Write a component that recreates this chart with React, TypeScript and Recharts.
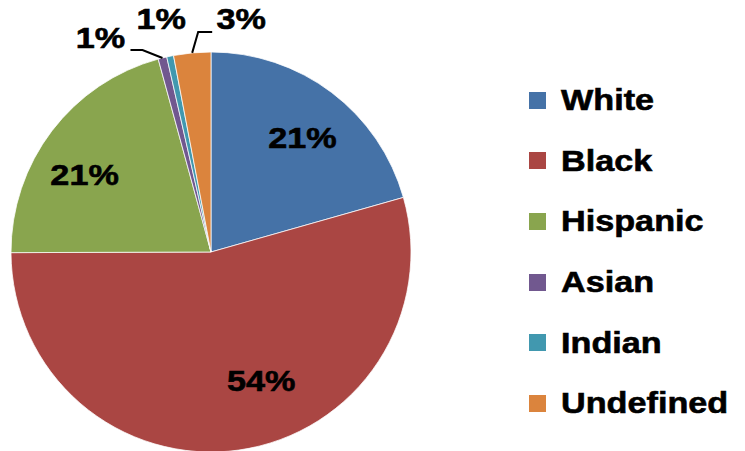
import React from 'react';
import { PieChart, Pie, Cell, Legend } from 'recharts';

const groups = ['White', 'Black', 'Hispanic', 'Asian', 'Indian', 'Undefined'];
const shares = [20.6, 54.35, 20.8, 0.7, 0.55, 3.0];
const colors = ['#4572A7', '#AA4643', '#89A54E', '#71588F', '#4198AF', '#DB843D'];

const data = groups.map((name, i) => ({ name, value: shares[i] }));

// label placement: inside labels get a nudge, outside labels are offset from the arc
const labelNudge = [
  { dx: 4, dy: 1 },
  { dx: 30, dy: -15 },
  { dx: -11, dy: 11 },
  { dx: -62, dy: -20 },
  { dx: -9, dy: -37 },
  { dx: 49, dy: -34 },
];
const insideCount = 3;

const RADIAN = Math.PI / 180;
const FONT = '"Liberation Sans", Arial, sans-serif';
const STRETCH = 1.14;

const renderLabel = (props: any) => {
  const { cx, cy, midAngle, outerRadius, percent, index } = props;
  const cos = Math.cos(-midAngle * RADIAN);
  const sin = Math.sin(-midAngle * RADIAN);
  const text = `${Math.round(percent * 100)}%`;
  const nudge = labelNudge[index];
  const textProps = {
    x: 0,
    y: 0,
    textAnchor: 'middle' as const,
    dominantBaseline: 'central' as const,
    fontFamily: FONT,
    fontWeight: 700,
    fontSize: 30,
    fill: '#000',
    stroke: '#000',
    strokeWidth: 0.6,
  };

  let lx: number;
  let ly: number;
  let path: string | null = null;
  if (index < insideCount) {
    const r = outerRadius * 0.725;
    lx = cx + r * cos + nudge.dx;
    ly = cy + r * sin + nudge.dy;
  } else {
    const ex = cx + outerRadius * cos;
    const ey = cy + outerRadius * sin;
    lx = ex + nudge.dx;
    ly = ey + nudge.dy;
    if (index === 3) {
      path = `M${ex},${ey} L${ex - 20},${ey - 8} L${ex - 32},${ey - 8}`;
    } else if (index === 5) {
      path = `M${ex},${ey} L${ex + 6},${ey - 21} L${ex + 20},${ey - 21}`;
    }
  }
  return (
    <g>
      {path && <path d={path} stroke="#000" strokeWidth={2} fill="none" />}
      <g transform={`translate(${lx},${ly}) scale(${STRETCH},1)`}>
        <text {...textProps}>{text}</text>
      </g>
    </g>
  );
};

const renderLegend = () => (
  <div style={{ fontFamily: FONT }}>
    {groups.map((g, i) => (
      <div key={g} style={{ display: 'flex', alignItems: 'center', height: 60.6 }}>
        <span
          style={{ width: 17, height: 17, background: colors[i], marginRight: 15, flexShrink: 0 }}
        />
        <span
          style={{
            fontSize: 30,
            fontWeight: 700,
            lineHeight: 1,
            color: '#000',
            WebkitTextStroke: '0.6px #000',
            display: 'inline-block',
            transform: `scaleX(${STRETCH})`,
            transformOrigin: 'left center',
            whiteSpace: 'nowrap',
          }}
        >
          {g}
        </span>
      </div>
    ))}
  </div>
);

export default function App() {
  return (
    <div style={{ position: 'absolute', left: 0, top: 0, width: 745, height: 451, background: '#fff' }}>
      <PieChart width={745} height={451} margin={{ top: 0, right: 0, bottom: 0, left: 0 }}>
        <Pie
          data={data}
          dataKey="value"
          nameKey="name"
          cx={211}
          cy={252}
          outerRadius={200}
          startAngle={90}
          endAngle={-270}
          label={renderLabel}
          labelLine={false}
          stroke="#fff"
          strokeWidth={0.75}
          isAnimationActive={false}
        >
          {data.map((d, i) => (
            <Cell key={d.name} fill={colors[i]} />
          ))}
        </Pie>
        <Legend
          content={renderLegend}
          layout="vertical"
          wrapperStyle={{ position: 'absolute', left: 529, top: 70, width: 216 }}
        />
      </PieChart>
    </div>
  );
}
